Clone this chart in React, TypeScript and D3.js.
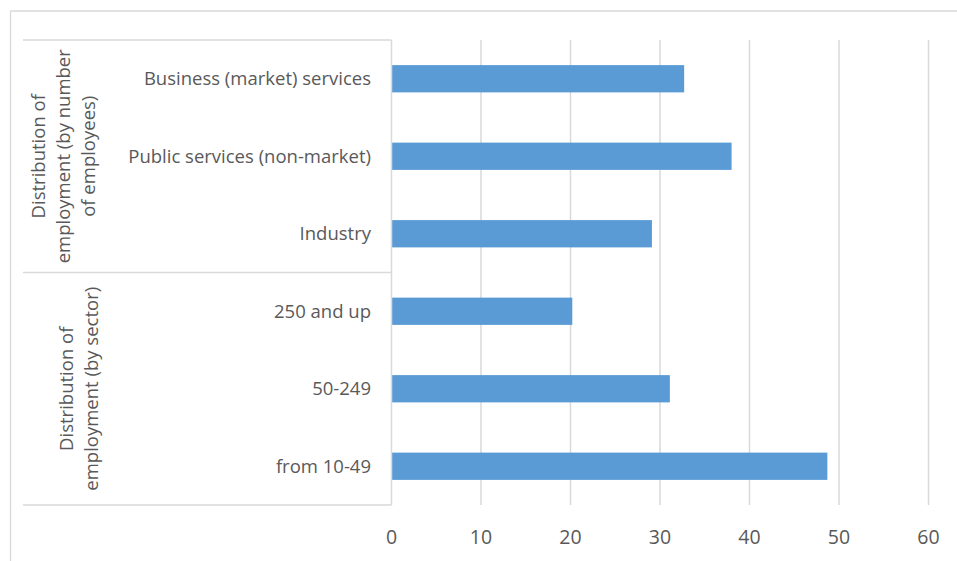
import React from "react";
import * as d3 from "d3";

const categories = [
  "Business (market) services",
  "Public services (non-market)",
  "Industry",
  "250 and up",
  "50-249",
  "from 10-49",
];
const values = [32.7, 38.0, 29.1, 20.2, 31.1, 48.7];
const xTicks = [0, 10, 20, 30, 40, 50, 60];
const groups = [
  { lines: ["Distribution of", "employment (by number", "of employees)"], from: 0, to: 3 },
  { lines: ["Distribution of", "employment (by sector)"], from: 3, to: 6 },
];

const W = 957;
const H = 561;
const left = 391.5;
const right = 928.5;
const top = 40;
const bottom = 505;
const labelLeft = 23;
const FONT = "'Open Sans', 'Noto Sans', sans-serif";
const TEXT = "#595959";
const GRID = "#d9d9d9";

export default function App() {
  const x = d3.scaleLinear().domain([0, 60]).range([left, right]);
  const y = d3
    .scaleBand<string>()
    .domain(categories)
    .range([top, bottom])
    .paddingInner(0.648)
    .paddingOuter(0.324);
  const step = y.step();
  const boundary = (i: number) => top + i * step;

  return (
    <svg
      width={W}
      height={H}
      style={{ position: "absolute", left: 0, top: 0, background: "#fff" }}
      fontFamily={FONT}
    >
      {/* outer chart border */}
      <line x1={10.5} y1={11} x2={W} y2={11} stroke={GRID} strokeWidth={1.3} />
      <line x1={10.5} y1={11} x2={10.5} y2={H} stroke={GRID} strokeWidth={1.3} />

      {/* gridlines */}
      {xTicks.slice(1).map((t) => (
        <line key={t} x1={x(t)} x2={x(t)} y1={top} y2={bottom} stroke={GRID} strokeWidth={1.5} />
      ))}

      {/* bars */}
      {categories.map((c, i) => (
        <rect
          key={c}
          x={x(0)}
          y={y(c)}
          width={x(values[i]) - x(0)}
          height={y.bandwidth()}
          fill="#5b9bd5"
        />
      ))}

      {/* category axis box */}
      <line x1={x(0)} x2={x(0)} y1={top} y2={bottom} stroke={GRID} strokeWidth={1.5} />
      {[0, 3, 6].map((i) => (
        <line key={i} x1={labelLeft} x2={x(0)} y1={boundary(i)} y2={boundary(i)} stroke={GRID} strokeWidth={1.5} />
      ))}

      {/* category labels */}
      {categories.map((c) => (
        <text
          key={c}
          x={371}
          y={(y(c) as number) + y.bandwidth() / 2}
          dy="0.35em"
          textAnchor="end"
          fontSize={18.5}
          fill={TEXT}
        >
          {c}
        </text>
      ))}

      {/* group labels */}
      {groups.map((g, gi) => {
        const cy = (boundary(g.from) + boundary(g.to)) / 2;
        const baseX = gi === 0 ? [45, 70, 95] : [72.5, 97.5];
        return g.lines.map((ln, li) => (
          <text
            key={gi + "-" + li}
            transform={`translate(${baseX[li]},${cy}) rotate(-90)`}
            textAnchor="middle"
            fontSize={18.5}
            fill={TEXT}
          >
            {ln}
          </text>
        ));
      })}

      {/* x tick labels */}
      {xTicks.map((t) => (
        <text key={t} x={x(t)} y={543.5} textAnchor="middle" fontSize={19.5} fill={TEXT}>
          {t}
        </text>
      ))}
    </svg>
  );
}
